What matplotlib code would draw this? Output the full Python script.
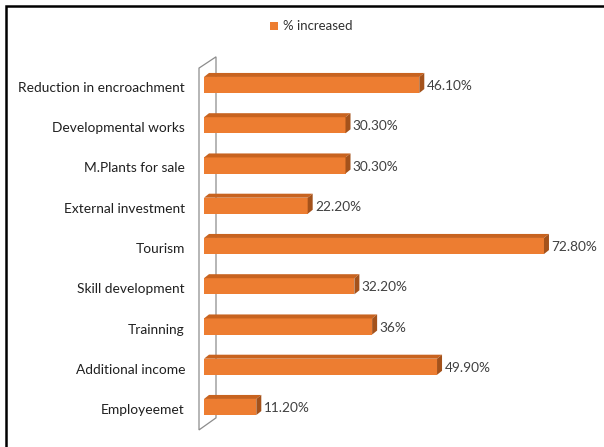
import matplotlib.pyplot as plt
from matplotlib.patches import Polygon, Rectangle

categories = ["Employeemet", "Additional income", "Trainning", "Skill development",
              "Tourism", "External investment", "M.Plants for sale",
              "Developmental works", "Reduction in encroachment"]
values = [11.2, 49.9, 36, 32.2, 72.8, 22.2, 30.3, 30.3, 46.1]
labels = ["11.20%", "49.90%", "36%", "32.20%", "72.80%", "22.20%", "30.30%", "30.30%", "46.10%"]
series_name = "% increased"

W, H = 604, 447
fig = plt.figure(figsize=(W / 100, H / 100), dpi=100)
plt.rcParams['font.family'] = ['Lato', 'DejaVu Sans']

# axes placed in pixel space
ax_l, ax_r, ax_t, ax_b = 190, 600, 45, 440
ax = fig.add_axes([ax_l / W, 1 - ax_b / H, (ax_r - ax_l) / W, (ax_b - ax_t) / H])
px_x = 4.67   # pixels per percent
px_y = 40.25  # pixels per category
x0_px, y0_px = 204, 407
ax.set_xlim(-(x0_px - ax_l) / px_x, (ax_r - x0_px) / px_x)
ax.set_ylim(-(ax_b - y0_px) / px_y, (len(categories) - 1) + (85 - ax_t) / px_y)
ax.axis('off')

front = '#ED7D31'
top_c = '#C8631F'
side_c = '#A4521B'
h = 0.4
dx = 5 / px_x
dy = 4 / px_y

# back wall
wx0, wx1 = -5 / px_x, 12 / px_x
wall = Polygon([(wx0, -0.57), (wx0, 8.42), (wx1, 8.70), (wx1, -0.27)],
               closed=True, facecolor='white', edgecolor='#8c8c8c', lw=0.9, zorder=1)
ax.add_patch(wall)

for i, v in enumerate(values):
    b, t = i - h / 2, i + h / 2
    ax.add_patch(Polygon([(0, b), (v, b), (v, t), (0, t)], closed=True,
                         facecolor=front, edgecolor='none', zorder=3))
    ax.add_patch(Polygon([(0, t), (v, t), (v + dx, t + dy), (dx, t + dy)], closed=True,
                         facecolor=top_c, edgecolor='none', zorder=3))
    ax.add_patch(Polygon([(v, b), (v, t), (v + dx, t + dy), (v + dx, b + dy)], closed=True,
                         facecolor=side_c, edgecolor='none', zorder=3))
    ax.text(v + dx + 0.5, i - 0.03, labels[i], ha='left', va='center',
            fontsize=9.8, color='#404040', zorder=4)
    fig.text(185 / W, 1 - (y0_px - i * px_y + 3) / H, categories[i], ha='right',
             va='center', fontsize=9.9, color='#202020')

# legend
fig.patches.append(Rectangle((270 / W, 1 - 30 / H), 8 / W, 8 / H, transform=fig.transFigure,
                             facecolor=front, edgecolor='none'))
fig.text(283 / W, 1 - 26 / H, series_name, ha='left', va='center', fontsize=9.5, color='#303030')

# outer border
fig.patches.append(Rectangle((5.5 / W, -0.1), 1.2, 1 - 6.5 / H + 0.1, transform=fig.transFigure,
                             facecolor='none', edgecolor='black', lw=1.8))

fig.savefig('out.png', dpi=100)
